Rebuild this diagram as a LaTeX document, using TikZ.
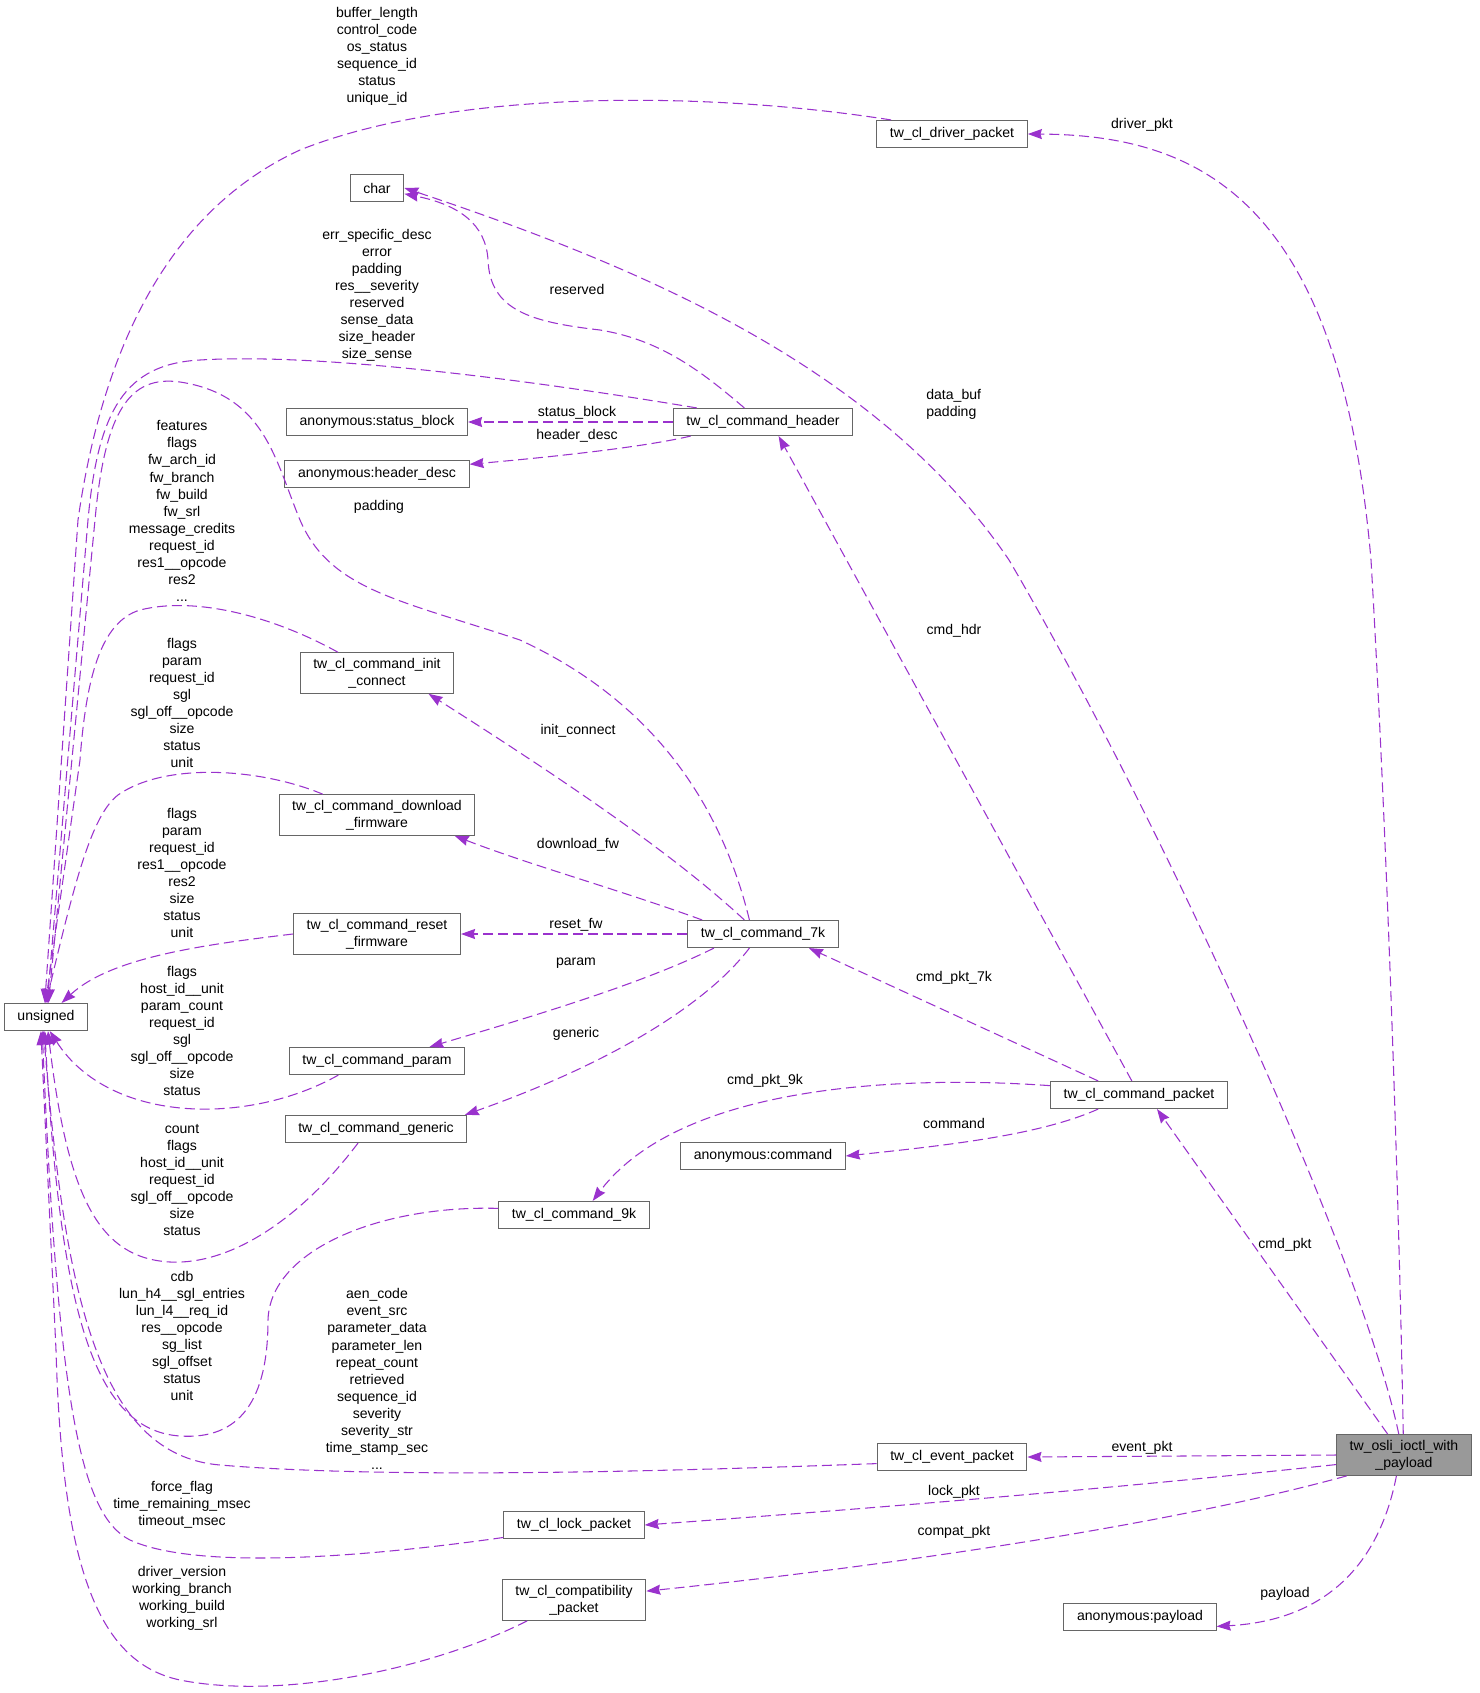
\documentclass[tikz,border=0pt]{standalone}
\usepackage{fontspec}
\setmainfont{Liberation Sans}
\usetikzlibrary{arrows.meta}
\definecolor{edgepurple}{HTML}{9A32CD}
\definecolor{boxgray}{HTML}{666666}
\definecolor{mainfill}{HTML}{999999}
\newcommand{\lblfont}{\fontsize{8}{9.7}\selectfont}

\begin{document}
\begin{tikzpicture}[x=0.02cm, y=-0.02cm,
  cls/.style={draw=boxgray, line width=0.6pt, fill=white, font=\lblfont, align=center,
    inner xsep=7.5pt, inner ysep=3pt, minimum height=15.4pt},
  mainbox/.style={cls, fill=mainfill},
  member/.style={draw=edgepurple, line width=0.6pt, dash pattern=on 5.7pt off 2.8pt,
    -{Stealth[length=8pt, width=5.7pt, inset=0.8pt]}},
  lbl/.style={font=\lblfont, align=center, inner sep=0pt}]
\fill[white] (0,0) rectangle (1480,1693);
\useasboundingbox (0,0) rectangle (1480,1693);

% classes
\node[cls] (driver) at (952,134) {tw\_cl\_driver\_packet};
\node[cls] (chr) at (377,188) {char};
\node[cls] (statusblk) at (377,422) {anonymous:status\_block};
\node[cls] (hdrdesc) at (377,474) {anonymous:header\_desc};
\node[cls] (cmdhdr) at (763,422) {tw\_cl\_command\_header};
\node[cls] (initconn) at (377,673) {tw\_cl\_command\_init\\\_connect};
\node[cls] (dlfw) at (377,815) {tw\_cl\_command\_download\\\_firmware};
\node[cls] (resetfw) at (377,934) {tw\_cl\_command\_reset\\\_firmware};
\node[cls] (unsig) at (46,1017) {unsigned};
\node[cls] (cmd7k) at (763,934) {tw\_cl\_command\_7k};
\node[cls] (param) at (377,1061) {tw\_cl\_command\_param};
\node[cls] (generic) at (376,1129) {tw\_cl\_command\_generic};
\node[cls] (cmdpkt) at (1139,1095) {tw\_cl\_command\_packet};
\node[cls] (anoncmd) at (763,1156) {anonymous:command};
\node[cls] (cmd9k) at (574,1215) {tw\_cl\_command\_9k};
\node[mainbox] (ioctl) at (1404,1455) {tw\_osli\_ioctl\_with\\\_payload};
\node[cls] (event) at (952,1457) {tw\_cl\_event\_packet};
\node[cls] (lock) at (574,1525) {tw\_cl\_lock\_packet};
\node[cls] (compat) at (574,1600) {tw\_cl\_compatibility\\\_packet};
\node[cls] (anonpl) at (1140,1617) {anonymous:payload};

% tw_osli_ioctl_with_payload members
\draw[member] (ioctl.92) .. controls (1398,1150) and (1385,800) .. (1371,560) .. controls (1340,200) and (1200,135) .. (driver.east);
\draw[member] (ioctl.104) .. controls (1360,1250) and (1150,800) .. (1009,560) .. controls (880,370) and (650,270) .. (chr.east);
\draw[member] (ioctl.128) -- (cmdpkt.-38);
\draw[member] (ioctl.180) -- (event.east);
\draw[member] (ioctl.188) .. controls (1100,1490) and (850,1510) .. (lock.east);
\draw[member] (ioctl.200) .. controls (1150,1530) and (850,1570) .. (compat.7);
\draw[member] (ioctl.250) .. controls (1380,1560) and (1330,1620) .. (anonpl.-7);

% tw_cl_command_packet members
\draw[member] (cmdpkt.117) -- (cmdhdr.-42);
\draw[member] (cmdpkt.161) -- (cmd7k.-17);
\draw[member] (cmdpkt.174) .. controls (900,1075) and (680,1085) .. (cmd9k.37);
\draw[member] (cmdpkt.199) .. controls (1040,1135) and (950,1145) .. (anoncmd.east);

% tw_cl_command_header members
\draw[member] (cmdhdr.west) -- (statusblk.east);
\draw[member] (cmdhdr.191) .. controls (640,448) and (540,458) .. (hdrdesc.6);
\draw[member] (cmdhdr.143) .. controls (700,370) and (660,340) .. (600,330) .. controls (530,322) and (490,310) .. (488,260) .. controls (486,225) and (460,205) .. (chr.-12);

% tw_cl_command_7k members
\draw[member] (cmd7k.143) .. controls (680,860) and (580,790) .. (initconn.-22);
\draw[member] (cmd7k.167) .. controls (620,890) and (530,865) .. (dlfw.-15);
\draw[member] (cmd7k.west) -- (resetfw.east);
\draw[member] (cmd7k.196) .. controls (640,985) and (520,1020) .. (param.15);
\draw[member] (cmd7k.226) .. controls (710,1000) and (620,1060) .. (generic.9);

% everything that ends in unsigned
\draw[member] (driver.167) .. controls (700,90) and (450,90) .. (300,150) .. controls (180,205) and (105,330) .. (78,520) -- (unsig.95);
\draw[member] (cmdhdr.168) .. controls (560,385) and (330,352) .. (200,360) .. controls (125,364) and (98,410) .. (88,520) -- (unsig.85);
\draw[member] (cmd7k.134) .. controls (720,800) and (650,700) .. (520,640) .. controls (400,600) and (330,590) .. (300,520) .. controls (275,460) and (265,395) .. (180,382) .. controls (130,375) and (105,410) .. (95,520) -- (unsig.80);
\draw[member] (initconn.152) .. controls (280,620) and (200,595) .. (140,610) .. controls (100,622) and (86,680) .. (80,760) -- (unsig.92);
\draw[member] (dlfw.159) .. controls (260,768) and (165,762) .. (118,795) .. controls (92,815) and (75,880) .. (unsig.90);
\draw[member] (resetfw.west) .. controls (200,945) and (110,958) .. (unsig.42);
\draw[member] (param.200) .. controls (250,1125) and (110,1125) .. (unsig.-75);
\draw[member] (generic.218) .. controls (300,1220) and (230,1265) .. (170,1262) .. controls (100,1258) and (68,1200) .. (unsig.-82);
\draw[member] (cmd9k.175) .. controls (380,1205) and (270,1250) .. (268,1320) .. controls (268,1400) and (240,1440) .. (180,1436) .. controls (90,1430) and (60,1300) .. (unsig.-95);
\draw[member] (event.185) .. controls (700,1470) and (400,1480) .. (220,1465) .. controls (100,1455) and (65,1300) .. (unsig.-100);
\draw[member] (lock.190) .. controls (380,1555) and (200,1572) .. (130,1540) .. controls (80,1515) and (58,1400) .. (unsig.-105);
\draw[member] (compat.204) .. controls (430,1670) and (280,1700) .. (180,1680) .. controls (95,1662) and (62,1560) .. (56,1350) -- (unsig.-110);

% member labels
\node[lbl] (l_drvpkt) at (1142,125) {driver\_pkt};
\node[lbl, align=left, anchor=west] (l_databuf) at (926,404) {data\_buf\\padding};
\node[lbl] (l_cmdpkt) at (1285,1245) {cmd\_pkt};
\node[lbl] (l_eventpkt) at (1142,1448) {event\_pkt};
\node[lbl] (l_lockpkt) at (954,1492) {lock\_pkt};
\node[lbl] (l_compatpkt) at (954,1532) {compat\_pkt};
\node[lbl] (l_payload) at (1285,1594) {payload};
\node[lbl] (l_cmdhdr) at (954,631) {cmd\_hdr};
\node[lbl] (l_pkt7k) at (954,978) {cmd\_pkt\_7k};
\node[lbl] (l_pkt9k) at (765,1081) {cmd\_pkt\_9k};
\node[lbl] (l_command) at (954,1123) {command};
\node[lbl] (l_reserved) at (577,289) {reserved};
\node[lbl] (l_status) at (577,413) {status\_block};
\node[lbl] (l_hdrdesc) at (577,436) {header\_desc};
\node[lbl] (l_initconn) at (578,731) {init\_connect};
\node[lbl] (l_dlfw) at (578,845) {download\_fw};
\node[lbl] (l_resetfw) at (576,925) {reset\_fw};
\node[lbl] (l_param) at (576,963) {param};
\node[lbl] (l_generic) at (576,1034) {generic};
\node[lbl] (l_padding) at (379,507) {padding};

% labels of the unsigned fields
\node[lbl] (l_drvfields) at (377,56) {buffer\_length\\control\_code\\os\_status\\sequence\_id\\status\\unique\_id};
\node[lbl] (l_hdrfields) at (377,295) {err\_specific\_desc\\error\\padding\\res\_\_severity\\reserved\\sense\_data\\size\_header\\size\_sense};
\node[lbl] (l_initfields) at (182,511) {features\\flags\\fw\_arch\_id\\fw\_branch\\fw\_build\\fw\_srl\\message\_credits\\request\_id\\res1\_\_opcode\\res2\\...};
\node[lbl] (l_dlfields) at (182,703) {flags\\param\\request\_id\\sgl\\sgl\_off\_\_opcode\\size\\status\\unit};
\node[lbl] (l_rstfields) at (182,873) {flags\\param\\request\_id\\res1\_\_opcode\\res2\\size\\status\\unit};
\node[lbl] (l_prmfields) at (182,1031) {flags\\host\_id\_\_unit\\param\_count\\request\_id\\sgl\\sgl\_off\_\_opcode\\size\\status};
\node[lbl] (l_genfields) at (182,1180) {count\\flags\\host\_id\_\_unit\\request\_id\\sgl\_off\_\_opcode\\size\\status};
\node[lbl] (l_9kfields) at (182,1336) {cdb\\lun\_h4\_\_sgl\_entries\\lun\_l4\_\_req\_id\\res\_\_opcode\\sg\_list\\sgl\_offset\\status\\unit};
\node[lbl] (l_evtfields) at (377,1379) {aen\_code\\event\_src\\parameter\_data\\parameter\_len\\repeat\_count\\retrieved\\sequence\_id\\severity\\severity\_str\\time\_stamp\_sec\\...};
\node[lbl] (l_lckfields) at (182,1505) {force\_flag\\time\_remaining\_msec\\timeout\_msec};
\node[lbl] (l_cmpfields) at (182,1598) {driver\_version\\working\_branch\\working\_build\\working\_srl};

\end{tikzpicture}
\end{document}
